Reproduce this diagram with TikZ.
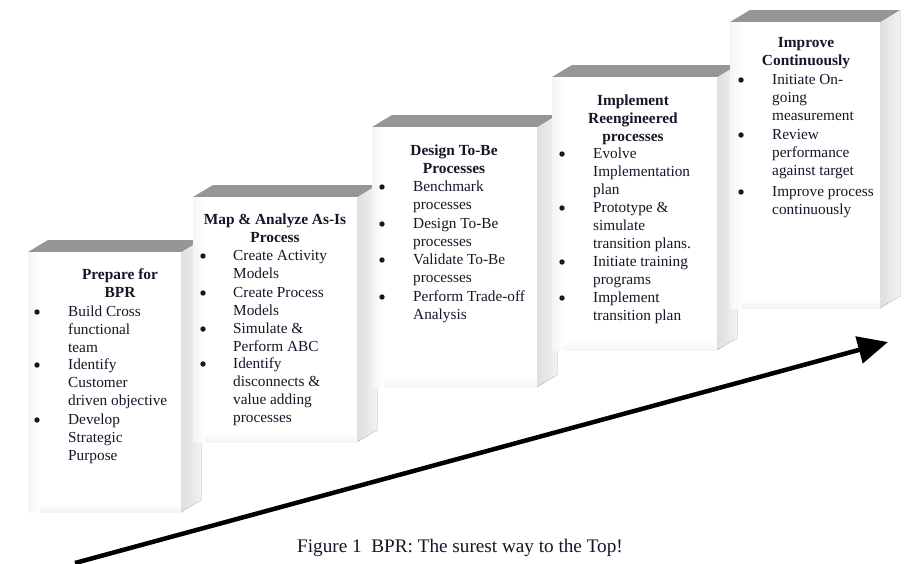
\documentclass[tikz,border=0pt]{standalone}
\usepackage{fontspec}
\setmainfont{Liberation Serif}
\usetikzlibrary{arrows.meta}
\definecolor{topgray}{RGB}{150,150,150}
\definecolor{sidegrayA}{RGB}{222,222,222}
\definecolor{sidegrayB}{RGB}{242,242,242}
\definecolor{frontgray}{RGB}{244,244,244}
\definecolor{txt}{RGB}{22,22,40}
\tikzset{
  topface/.style={fill=topgray, draw=none},
  sideface/.style={left color=sidegrayA, right color=sidegrayB, draw=none},
  frontface/.style={fill=white, draw=none},
  frontedge/.style={left color=frontgray, right color=white, draw=none},
  bottomedge/.style={top color=white, bottom color=frontgray, draw=none},
  ttl/.style={font=\bfseries\fontsize{15.4}{18}\selectfont, align=center, anchor=north, text=txt, inner sep=0pt},
  itm/.style={font=\fontsize{15.3}{17.8}\selectfont, align=left, anchor=north west, text=txt, inner sep=0pt},
  bul/.style={circle, fill=txt, draw=none, minimum size=5.4pt, inner sep=0pt},
  caption/.style={font=\fontsize{19.2}{22}\selectfont, anchor=base, text=txt, inner sep=0pt},
  bigarrow/.style={line width=4.5pt, -{Triangle[length=30pt,width=27pt]}, black}
}
\newcommand{\stepblock}[4]{% x1 x2 y1 y2
  \fill[topface] (#1,#3) -- (#1+20,#3-12) -- (#2+20,#3-12) -- (#2,#3) -- cycle;
  \fill[sideface] (#2,#3) -- (#2+20,#3-12) -- (#2+20,#4-12) -- (#2,#4) -- cycle;
  \fill[frontface] (#1,#3) rectangle (#2,#4);
  \shade[frontedge] (#1,#3) rectangle (#1+12,#4);
  \shade[bottomedge] (#1+12,#4-10) rectangle (#2,#4);
}
\begin{document}
\begin{tikzpicture}[x=1pt,y=-1pt]
\fill[white] (0,0) rectangle (909,563);
\useasboundingbox (0,0) rectangle (909,563);

% ---- Box 1
\stepblock{28}{181}{252}{512}
\node[ttl] (t1) at (120,267) {\strut Prepare for\\BPR};
\node[bul] (p1a) at (37,312) {};
\node[itm] (i1a) at (68,304) {\strut Build Cross\\functional\\team};
\node[bul] (p1b) at (37,365) {};
\node[itm] (i1b) at (68,357) {\strut Identify\\Customer\\driven objective};
\node[bul] (p1c) at (37,420) {};
\node[itm] (i1c) at (68,412) {\strut Develop\\Strategic\\Purpose};

% ---- Box 2
\stepblock{193}{357}{197}{442}
\node[ttl] (t2) at (275,212) {\strut Map \& Analyze As-Is\\Process};
\node[bul] (p2a) at (203,256) {};
\node[itm] (i2a) at (233,248) {\strut Create Activity\\Models};
\node[bul] (p2b) at (203,293) {};
\node[itm] (i2b) at (233,285) {\strut Create Process\\Models};
\node[bul] (p2c) at (203,329) {};
\node[itm] (i2c) at (233,321) {\strut Simulate \&\\Perform ABC};
\node[bul] (p2d) at (203,364) {};
\node[itm] (i2d) at (233,356) {\strut Identify\\disconnects \&\\value adding\\processes};

% ---- Box 3
\stepblock{372}{537}{127}{387}
\node[ttl] (t3) at (454,143) {\strut Design To-Be\\Processes};
\node[bul] (p3a) at (382,187) {};
\node[itm] (i3a) at (413,179) {\strut Benchmark\\processes};
\node[bul] (p3b) at (382,224) {};
\node[itm] (i3b) at (413,216) {\strut Design To-Be\\processes};
\node[bul] (p3c) at (382,260) {};
\node[itm] (i3c) at (413,252) {\strut Validate To-Be\\processes};
\node[bul] (p3d) at (382,297) {};
\node[itm] (i3d) at (413,289) {\strut Perform Trade-off\\Analysis};

% ---- Box 4
\stepblock{552}{717}{77}{350}
\node[ttl] (t4) at (633,93) {\strut Implement\\Reengineered\\processes};
\node[bul] (p4a) at (562,154) {};
\node[itm] (i4a) at (593,146) {\strut Evolve\\Implementation\\plan};
\node[bul] (p4b) at (562,208) {};
\node[itm] (i4b) at (593,200) {\strut Prototype \&\\simulate\\transition plans.};
\node[bul] (p4c) at (562,262) {};
\node[itm] (i4c) at (593,254) {\strut Initiate training\\programs};
\node[bul] (p4d) at (562,298) {};
\node[itm] (i4d) at (593,290) {\strut Implement\\transition plan};

% ---- Box 5
\stepblock{730}{880}{22}{308}
\node[ttl] (t5) at (806,35) {\strut Improve\\Continuously};
\node[bul] (p5a) at (741,80) {};
\node[itm] (i5a) at (772,72) {\strut Initiate On-\\going\\measurement};
\node[bul] (p5b) at (741,135) {};
\node[itm] (i5b) at (772,127) {\strut Review\\performance\\against target};
\node[bul] (p5c) at (741,192) {};
\node[itm] (i5c) at (772,184) {\strut Improve process\\continuously};

% ---- Arrow
\coordinate (as) at (75,563);
\coordinate (ae) at (888,342);
\draw[bigarrow] (as) -- (ae);

% ---- Caption
\node[caption] (cap) at (460,552) {Figure 1\ \ BPR: The surest way to the Top!};
\end{tikzpicture}
\end{document}
